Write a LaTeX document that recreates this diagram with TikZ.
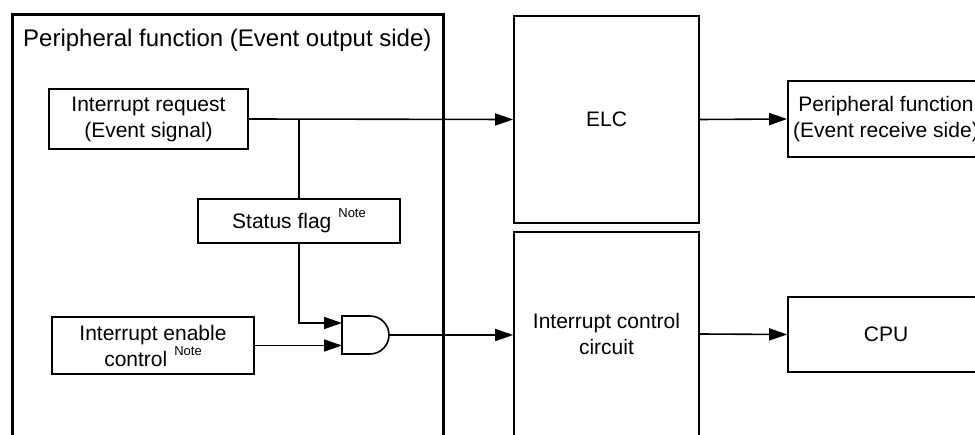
\documentclass[tikz,border=0pt]{standalone}
\usepackage{fontspec}
\setmainfont{Liberation Sans}
\usetikzlibrary{arrows.meta}
\newcommand\notemark{\hspace{7pt}\raisebox{11pt}{\fontsize{13}{13}\selectfont Note}}
\begin{document}
\begin{tikzpicture}[x=1pt,y=-1pt,
  box/.style={draw,line width=1.6pt,align=center,inner sep=0pt,
    font=\fontsize{21}{26}\selectfont},
  conn/.style={line width=1.6pt},
  arr/.style={conn,-{Triangle[length=18pt,width=12pt]}},
]
\useasboundingbox (0,0) rectangle (975,435);
\clip (0,0) rectangle (975,435);
% outer container (event output side)
\draw[line width=3pt] (12,450) -- (12,15) -- (443,15) -- (443,450);
\node[anchor=west,inner sep=0pt,font=\fontsize{24}{28}\selectfont] (title) at (23,40)
  {Peripheral function (Event output side)};
% boxes
\node[box,minimum width=199pt,minimum height=60pt] (req) at (148.5,119)
  {Interrupt request\\(Event signal)};
\node[box,minimum width=202pt,minimum height=44pt] (status) at (299,221)
  {Status flag\notemark};
\node[box,minimum width=202pt,minimum height=57pt] (enable) at (153,345.5)
  {Interrupt enable\\control\notemark};
\node[box,minimum width=185pt,minimum height=207pt] (elc) at (606.5,119.5) {ELC};
\node[box,minimum width=185pt,minimum height=204pt] (icc) at (606.5,334)
  {Interrupt control\\circuit};
\node[box,minimum width=196pt,minimum height=76pt] (recv) at (886,119)
  {Peripheral function\\(Event receive side)};
\node[box,minimum width=196pt,minimum height=75pt] (cpu) at (886,334.5) {CPU};
% AND gate
\draw[line width=1.6pt] (342,316) -- (370,316)
  arc[start angle=-90,end angle=90,radius=19] -- (342,354) -- cycle;
\coordinate (in1) at (342,323);
\coordinate (in2) at (342,345.5);
\coordinate (gout) at (389,335);
% connectors
\coordinate (j) at (status.north |- req.east);
\draw[arr] (req.east) -- (elc.west);
\draw[conn] (j) -- (status.north);
\draw[arr] (status.south) |- (in1);
\draw[arr] (enable.east) -- (in2);
\draw[arr] (gout) -- (gout -| icc.west);
\draw[arr] (elc.east) -- (recv.west);
\draw[arr] (icc.east) -- (cpu.west);
\end{tikzpicture}
\end{document}
